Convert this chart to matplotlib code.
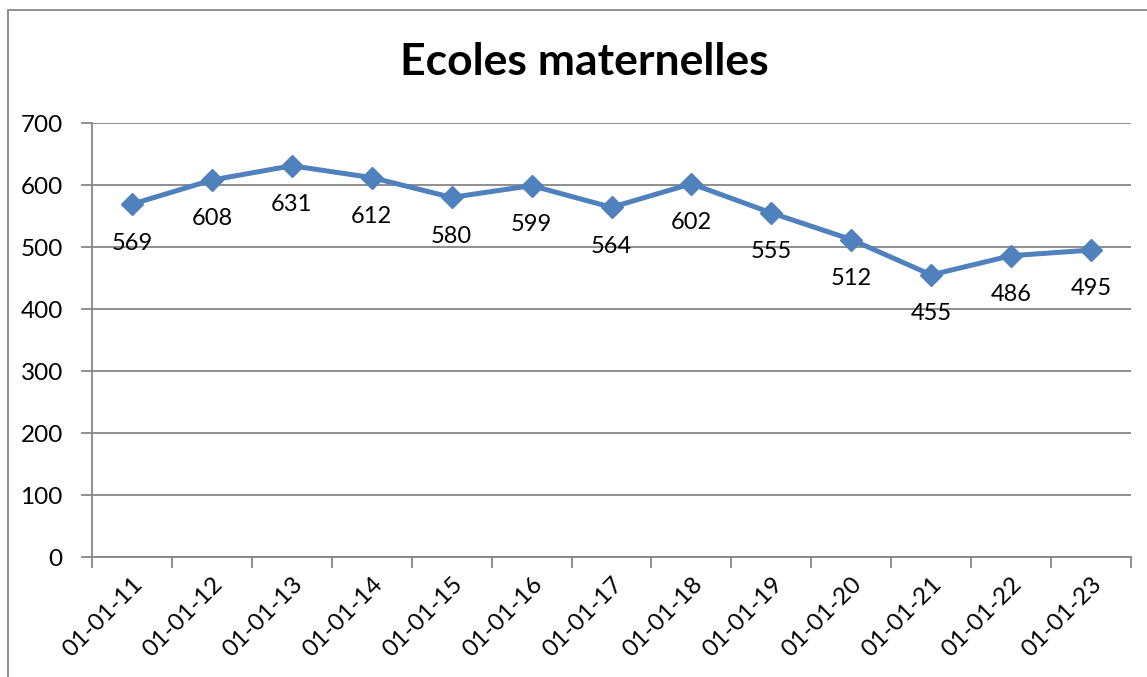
import matplotlib.pyplot as plt
from matplotlib.patches import Rectangle

plt.rcParams['font.family'] = ['Lato', 'DejaVu Sans']

dates = ["01-01-11", "01-01-12", "01-01-13", "01-01-14", "01-01-15", "01-01-16",
         "01-01-17", "01-01-18", "01-01-19", "01-01-20", "01-01-21", "01-01-22",
         "01-01-23"]
values = [569, 608, 631, 612, 580, 599, 564, 602, 555, 512, 455, 486, 495]
y_ticks = [0, 100, 200, 300, 400, 500, 600, 700]

fig = plt.figure(figsize=(11.47, 6.77), dpi=100)
ax = fig.add_axes([92 / 1147, 1 - 557 / 677, (1131 - 92) / 1147, (557 - 123) / 677])

x = list(range(len(dates)))
ax.plot(x, values, color="#4F81BD", linewidth=3.6, marker="D", markersize=11,
        zorder=3, clip_on=False)

for xi, v in zip(x, values):
    ax.annotate(str(v), (xi, v), xytext=(0, -28), textcoords="offset points",
                ha="center", va="center", fontsize=17, color="black")

ax.set_xlim(-0.5, len(dates) - 0.5)
ax.set_ylim(0, 700)
ax.set_yticks(y_ticks)
ax.tick_params(axis="y", labelsize=17.5, length=8, color="#868686", width=1.3, pad=13)

ax.set_xticks([i - 0.5 for i in range(len(dates) + 1)], minor=False)
ax.set_xticklabels([])
ax.set_xticks(x, minor=True)
ax.set_xticklabels(dates, minor=True, rotation=45, ha="right",
                   rotation_mode="anchor", fontsize=17.5)
ax.tick_params(axis="x", which="major", length=8, color="#868686", width=1.3)
ax.tick_params(axis="x", which="minor", length=0, pad=12)

ax.grid(axis="y", color="#868686", linewidth=1.3)
ax.set_axisbelow(True)
for s in ["top", "right"]:
    ax.spines[s].set_visible(False)
for s in ["left", "bottom"]:
    ax.spines[s].set_color("#868686")
    ax.spines[s].set_linewidth(1.3)

fig.text(584 / 1147, 1 - 62 / 677, "Ecoles maternelles", ha="center", va="center",
         fontsize=32, fontweight="bold")

# outer chart frame
fig.patches.append(Rectangle((8 / 1147, -0.01), 1.2, 1 - 10 / 677 + 0.01,
                             transform=fig.transFigure, fill=False,
                             edgecolor="#868686", linewidth=1.3))

plt.savefig("out.png", dpi=100)
plt.close()
